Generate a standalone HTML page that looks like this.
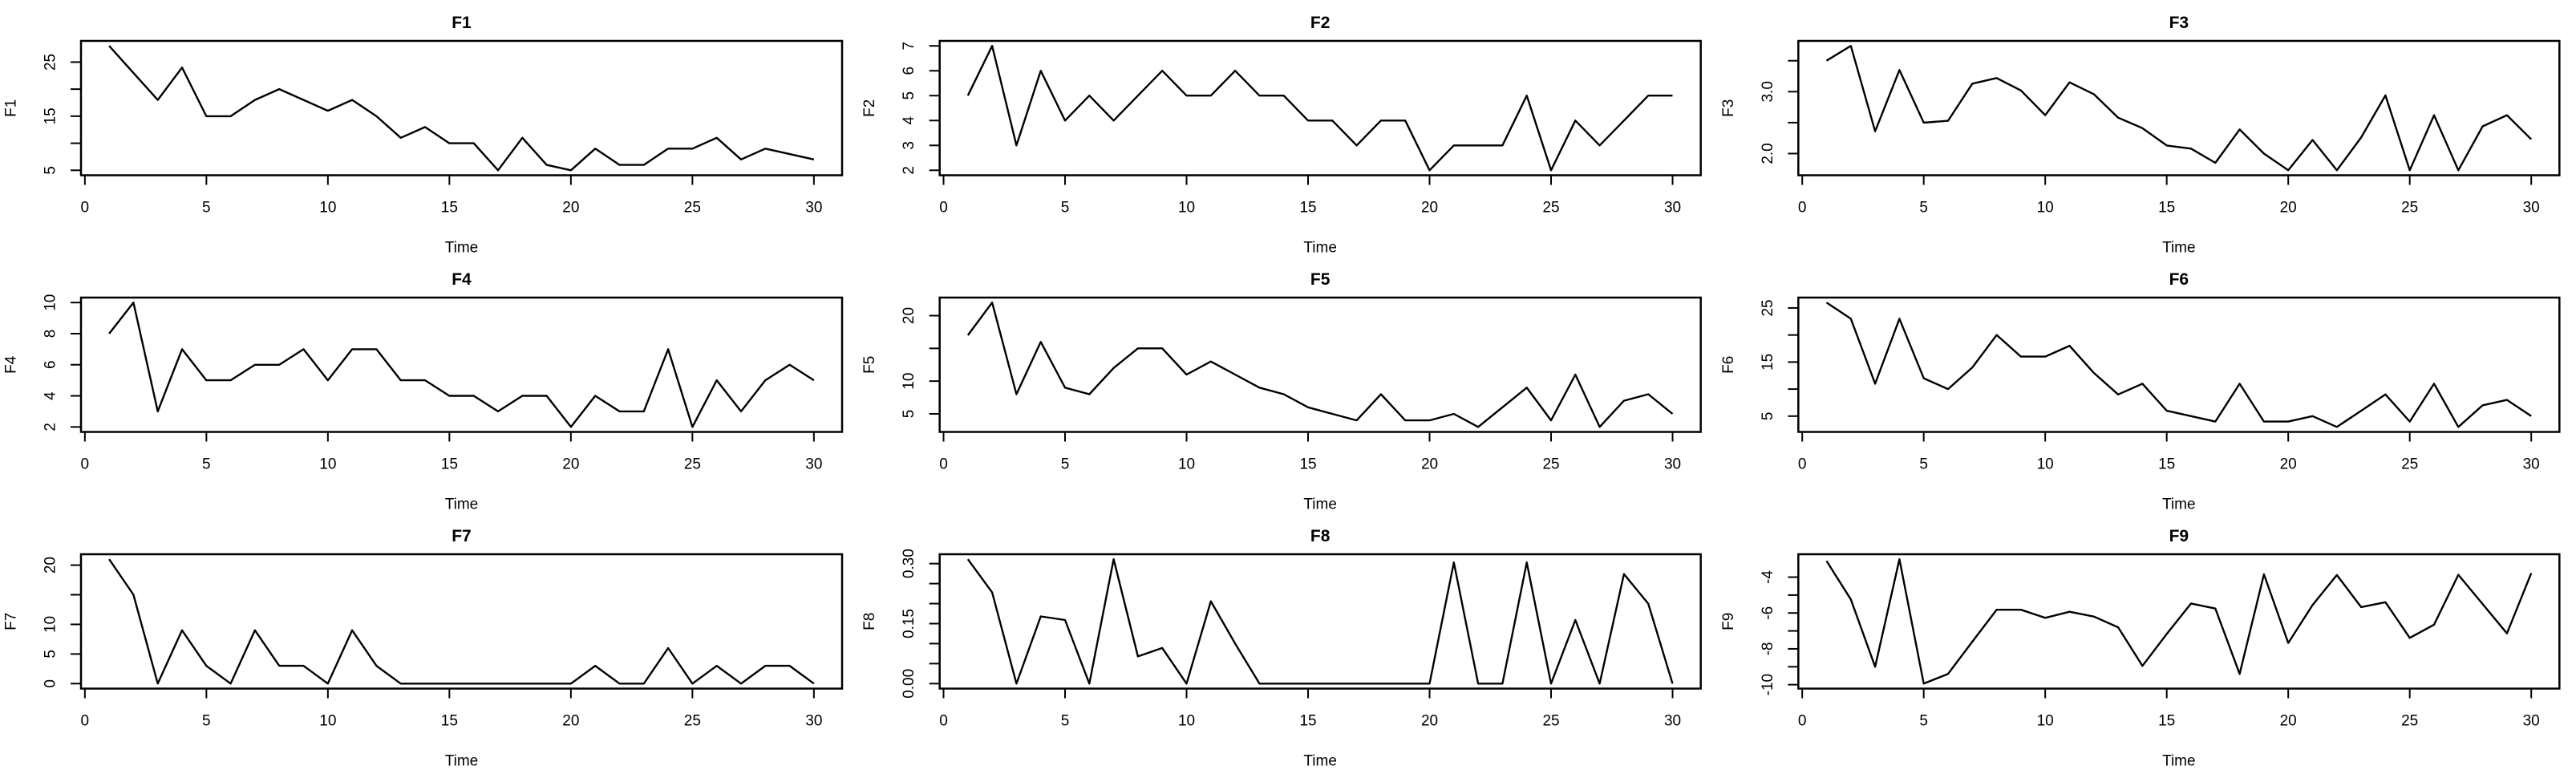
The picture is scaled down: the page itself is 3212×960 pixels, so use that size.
<!DOCTYPE html>
<html><head><meta charset="utf-8"><style>
html,body{margin:0;padding:0;background:#fff;}
svg{display:block;font-family:"Liberation Sans",Arial,sans-serif;}
</style></head><body>
<svg id="chart" width="3212" height="960" viewBox="0 0 3212 960" xmlns="http://www.w3.org/2000/svg"></svg>
<script>
const times = [1,2,3,4,5,6,7,8,9,10,11,12,13,14,15,16,17,18,19,20,21,22,23,24,25,26,27,28,29,30];
const xTicks = [0,5,10,15,20,25,30];
const names = ["F1","F2","F3","F4","F5","F6","F7","F8","F9"];
const f1 = [28,23,18,24,15,15,18,20,18,16,18,15,11,13,10,10,5,11,6,5,9,6,6,9,9,11,7,9,8,7];
const f2 = [5,7,3,6,4,5,4,5,6,5,5,6,5,5,4,4,3,4,4,2,3,3,3,5,2,4,3,4,5,5];
const f3 = [3.5,3.74,2.36,3.35,2.5,2.53,3.13,3.22,3.02,2.62,3.15,2.96,2.58,2.41,2.13,2.08,1.85,2.39,2.0,1.73,2.22,1.73,2.26,2.94,1.73,2.62,1.73,2.44,2.62,2.23];
const f4 = [8,10,3,7,5,5,6,6,7,5,7,7,5,5,4,4,3,4,4,2,4,3,3,7,2,5,3,5,6,5];
const f5 = [17,22,8,16,9,8,12,15,15,11,13,11,9,8,6,5,4,8,4,4,5,3,6,9,4,11,3,7,8,5];
const f6 = [26,23,11,23,12,10,14,20,16,16,18,13,9,11,6,5,4,11,4,4,5,3,6,9,4,11,3,7,8,5];
const f7 = [21,15,0,9,3,0,9,3,3,0,9,3,0,0,0,0,0,0,0,0,3,0,0,6,0,3,0,3,3,0];
const f8 = [0.311,0.228,0,0.168,0.159,0,0.311,0.068,0.089,0,0.206,0.1,0,0,0,0,0,0,0,0,0.303,0,0,0.303,0,0.159,0,0.274,0.2,0];
const f9 = [-3.1,-5.24,-9.0,-3.0,-9.94,-9.4,-7.6,-5.82,-5.82,-6.27,-5.93,-6.2,-6.8,-8.95,-7.17,-5.47,-5.75,-9.4,-3.84,-7.67,-5.56,-3.88,-5.67,-5.4,-7.39,-6.65,-3.87,-5.5,-7.14,-3.78];
const yTicks1 = [5,10,15,20,25];   const yLabels1 = ["5","","15","","25"];
const yTicks2 = [2,3,4,5,6,7];     const yLabels2 = ["2","3","4","5","6","7"];
const yTicks3 = [2.0,2.5,3.0,3.5]; const yLabels3 = ["2.0","","3.0",""];
const yTicks4 = [2,4,6,8,10];      const yLabels4 = ["2","4","6","8","10"];
const yTicks5 = [5,10,15,20];      const yLabels5 = ["5","10","","20"];
const yTicks6 = [5,10,15,20,25];   const yLabels6 = ["5","","15","","25"];
const yTicks7 = [0,5,10,15,20];    const yLabels7 = ["0","5","10","","20"];
const yTicks8 = [0,0.05,0.10,0.15,0.20,0.25,0.30]; const yLabels8 = ["0.00","","","0.15","","","0.30"];
const yTicks9 = [-10,-9,-8,-7,-6,-5,-4]; const yLabels9 = ["-10","","-8","","-6","","-4"];

const series = [f1,f2,f3,f4,f5,f6,f7,f8,f9];
const yTickSets = [yTicks1,yTicks2,yTicks3,yTicks4,yTicks5,yTicks6,yTicks7,yTicks8,yTicks9];
const yLabelSets = [yLabels1,yLabels2,yLabels3,yLabels4,yLabels5,yLabels6,yLabels7,yLabels8,yLabels9];

const NS = "http://www.w3.org/2000/svg";
const svg = document.getElementById("chart");
function mk(tag, attrs, parent){
  const e = document.createElementNS(NS, tag);
  for (const k in attrs) e.setAttribute(k, attrs[k]);
  parent.appendChild(e);
  return e;
}
const colW = 3212/3, boxW = 949, boxH = 167.5;
for (let i = 0; i < 9; i++) {
  const col = i % 3, row = Math.floor(i / 3);
  const L = col*colW + 101, T = row*320 + 51, R = L + boxW, B = T + boxH;
  const data = series[i];
  const tmin = Math.min(...times), tmax = Math.max(...times);
  const tpad = (tmax - tmin)*0.04;
  const xS = t => L + (t - (tmin - tpad)) / ((tmax - tmin) + 2*tpad) * boxW;
  const vmin = Math.min(...data), vmax = Math.max(...data);
  const vpad = (vmax - vmin)*0.04;
  const yS = v => B - (v - (vmin - vpad)) / ((vmax - vmin) + 2*vpad) * boxH;

  const g = mk("g", {}, svg);
  
  

  const title = mk("text", {x: L + boxW/2, y: T - 16, "text-anchor": "middle", "font-size": 21, "font-weight": "bold"}, g);
  title.textContent = names[i];
  
  

  const box = mk("rect", {x: L, y: T, width: boxW, height: boxH, fill: "none", stroke: "#000", "stroke-width": 2.5}, g);
  
  

  const xa = mk("g", {}, g);
  
  
  mk("line", {x1: xS(xTicks[0]), x2: xS(xTicks[xTicks.length-1]), y1: B, y2: B, stroke: "#000", "stroke-width": 2}, xa);
  xTicks.forEach(t => {
    mk("line", {x1: xS(t), x2: xS(t), y1: B, y2: B + 12, stroke: "#000", "stroke-width": 2}, xa);
    const lb = mk("text", {x: xS(t), y: B + 46, "text-anchor": "middle", "font-size": 19}, xa);
    lb.textContent = t;
    
    
  });
  const xt = mk("text", {x: L + boxW/2, y: B + 96, "text-anchor": "middle", "font-size": 19}, g);
  xt.textContent = "Time";
  
  

  const ya = mk("g", {}, g);
  
  
  const yt = yTickSets[i], yl = yLabelSets[i];
  mk("line", {x1: L, x2: L, y1: yS(yt[0]), y2: yS(yt[yt.length-1]), stroke: "#000", "stroke-width": 2}, ya);
  yt.forEach((v, k) => {
    mk("line", {x1: L - 13, x2: L, y1: yS(v), y2: yS(v), stroke: "#000", "stroke-width": 2}, ya);
    if (yl[k]) {
      const x = L - 38, y = yS(v);
      const lb = mk("text", {x: x, y: y, "text-anchor": "middle", "dominant-baseline": "central", "font-size": 19, transform: `rotate(-90 ${x} ${y})`}, ya);
      lb.textContent = yl[k];
      
      
    }
  });
  const ytx = L - 87, yty = T + boxH/2;
  const ytt = mk("text", {x: ytx, y: yty, "text-anchor": "middle", "dominant-baseline": "central", "font-size": 19, transform: `rotate(-90 ${ytx} ${yty})`}, g);
  ytt.textContent = names[i];
  
  

  const pts = data.map((v, k) => xS(times[k]).toFixed(1) + "," + yS(v).toFixed(1)).join(" ");
  const line = mk("polyline", {points: pts, fill: "none", stroke: "#000", "stroke-width": 2.4, "stroke-linejoin": "round"}, g);
  
  
}
</script>
</body></html>
